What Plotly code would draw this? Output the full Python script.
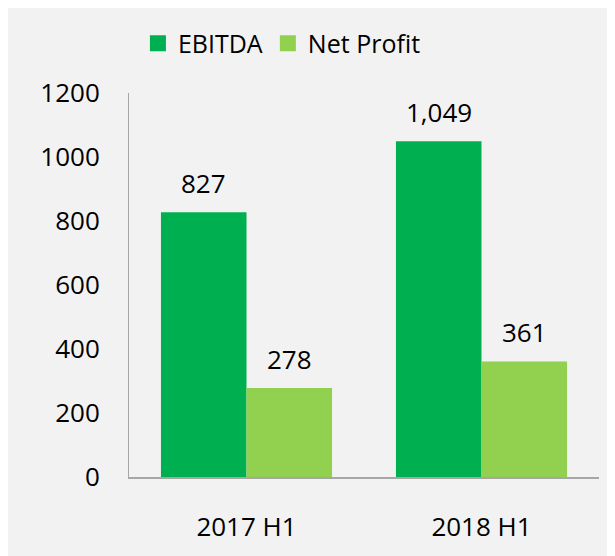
import plotly.graph_objects as go

categories = ["2017 H1", "2018 H1"]
ebitda = [827, 1049]
net_profit = [278, 361]
series_names = ["EBITDA", "Net Profit"]
colors = ["#00b050", "#92d050"]
y_ticks = [0, 200, 400, 600, 800, 1000, 1200]

FONT = "Open Sans, Calibri, Carlito, sans-serif"

fig = go.Figure()
for name, vals, col in zip(series_names, [ebitda, net_profit], colors):
    fig.add_trace(go.Bar(
        name=name, x=categories, y=vals, marker=dict(color=col, line=dict(width=0)),
        showlegend=False,
    ))
    # legend entry with a larger square swatch
    fig.add_trace(go.Scatter(
        name=name, x=[None], y=[None], mode="markers",
        marker=dict(symbol="square", size=16, color=col), showlegend=True,
    ))

# value labels above bars
offsets = [-42.75, 42.75]
for vals, off in zip([ebitda, net_profit], offsets):
    for c, v in zip(categories, vals):
        fig.add_annotation(x=c, y=v, text=f"{v:,}", showarrow=False,
                           xshift=off, yshift=9, yanchor="bottom",
                           font=dict(size=26, color="black", family=FONT))

fig.update_layout(
    width=607, height=548,
    margin=dict(l=121, r=16, t=83, b=77),
    paper_bgcolor="#f2f2f2", plot_bgcolor="#f2f2f2",
    barmode="group", bargap=0.272, bargroupgap=0,
    font=dict(family=FONT, size=26, color="black"),
    showlegend=True,
    legend=dict(orientation="h", x=0.019, xanchor="left", y=1.129, yanchor="middle",
                font=dict(size=25), bgcolor="rgba(0,0,0,0)", itemwidth=30),
    xaxis=dict(showline=True, linecolor="#a6a6a6", linewidth=1.5, showgrid=False,
               ticks="", ticklabelstandoff=26, tickfont=dict(size=26)),
    yaxis=dict(range=[0, 1200], tickvals=y_ticks, showline=True, linecolor="#a6a6a6",
               linewidth=1, showgrid=False, zeroline=False, ticks="",
               ticklabelstandoff=23, tickfont=dict(size=26)),
)

fig.write_html("out.html")
